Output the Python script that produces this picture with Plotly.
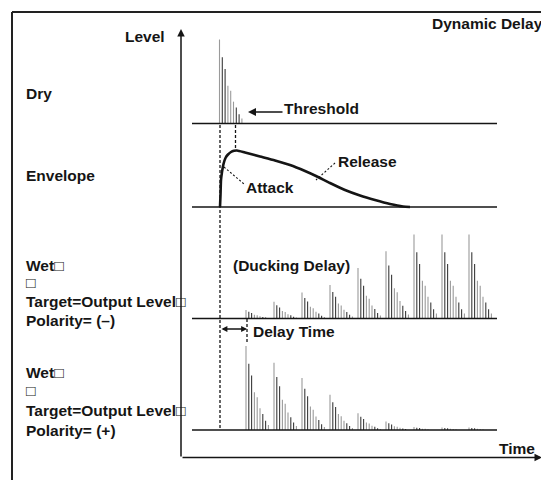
import plotly.graph_objects as go

# ---- data (levels) ----
pulse_shape = [1.0, 0.79, 0.65, 0.45, 0.39, 0.26, 0.19, 0.11, 0.06]
pulse_tone = ["g", "d", "d", "g", "g", "g", "d", "d", "g"]
dry_peak = 84
dry_onset = 219.5
burst_start = [246, 274, 302, 330, 358, 386, 414, 442, 469]
duck_scale = [0.10, 0.20, 0.31, 0.40, 0.60, 0.80, 1.00, 1.00, 1.00]
plus_scale = [1.00, 0.80, 0.62, 0.42, 0.20, 0.10, 0.035, 0.03, 0.03]
env_t = [220, 220.5, 221, 222, 223.5, 225.5, 228, 231, 234, 237, 245, 260, 275,
         290, 305, 316, 330, 345, 360, 375, 390, 403, 410]
env_level = [0, 12, 27, 35, 43, 49, 52.5, 55, 56.2, 56.5, 54.5, 50.5, 46.5,
             42, 36, 31, 24, 17, 11.5, 7, 3, 0.5, 0]

# row baselines (screen layout)
BASE_DRY, BASE_ENV, BASE_WM, BASE_WP = 123.5, 207, 318.5, 430
X0, X1 = 192, 497
SP = 2.8
INK = "#151515"
GRAY = "#9a9a9a"
DARK = "#3a3a3a"
FONT = dict(family="Liberation Sans, Arial, sans-serif", size=15.5, color=INK, weight="bold")
OFF = 8  # page body margin
BOX = '<span style="font-weight:normal">□</span>'

fig = go.Figure()

# pulses
gx, gy, dx, dy = [], [], [], []
def add_burst(start, scale, base):
    for k, (s, tone) in enumerate(zip(pulse_shape, pulse_tone)):
        h = dry_peak * scale * s
        if h < 0.6:
            continue
        x = start + SP * k
        xs, ys = (gx, gy) if tone == "g" else (dx, dy)
        xs += [x, x, None]
        ys += [base, base - h, None]

add_burst(dry_onset, 1.0, BASE_DRY)
for st, sc in zip(burst_start, duck_scale):
    add_burst(st, sc, BASE_WM)
for st, sc in zip(burst_start, plus_scale):
    add_burst(st, sc, BASE_WP)

fig.add_trace(go.Scatter(x=gx, y=gy, mode="lines", line=dict(color=GRAY, width=1.1),
                         hoverinfo="skip"))
fig.add_trace(go.Scatter(x=dx, y=dy, mode="lines", line=dict(color=DARK, width=1.1),
                         hoverinfo="skip"))

# envelope
fig.add_trace(go.Scatter(x=env_t, y=[BASE_ENV - v for v in env_level], mode="lines",
                         line=dict(color=INK, width=2.6, shape="spline", smoothing=0.6),
                         hoverinfo="skip"))

shapes = []
# outer frame
shapes.append(dict(type="line", x0=12, x1=12, y0=12, y1=482, line=dict(color="#222", width=2)))
shapes.append(dict(type="line", x0=12, x1=551, y0=12, y1=12, line=dict(color="#222", width=2)))
# baselines
for b in (BASE_DRY, BASE_ENV, BASE_WM, BASE_WP):
    shapes.append(dict(type="line", x0=X0, x1=X1, y0=b, y1=b, line=dict(color=INK, width=1.6)))
# dashed guides
dash = "3px,2px"
shapes.append(dict(type="line", x0=220, x1=220, y0=125, y1=BASE_WP, line=dict(color=INK, width=1.3, dash=dash)))
shapes.append(dict(type="line", x0=235.5, x1=235.5, y0=125, y1=150, line=dict(color=INK, width=1.3, dash=dash)))
shapes.append(dict(type="line", x0=247, x1=247, y0=319, y1=342, line=dict(color=INK, width=1.3, dash=dash)))
shapes.append(dict(type="line", x0=224, x1=244, y0=167, y1=184, line=dict(color=INK, width=1.1, dash="2px,2px")))
shapes.append(dict(type="line", x0=335, x1=316, y0=163, y1=180, line=dict(color=INK, width=1.1, dash="2px,2px")))

annotations = []
def arrow(x, y, ax, ay, side="end", w=1.5, head=2, size=1.0):
    annotations.append(dict(x=x, y=y, ax=ax, ay=ay, xref="x", yref="y", axref="x", ayref="y",
                            text="", showarrow=True, arrowhead=head, arrowsize=size,
                            arrowwidth=w, arrowcolor=INK, arrowside=side,
                            standoff=0, startstandoff=0))

arrow(181, 29, 181, 458)          # level axis
arrow(542, 457.5, 181, 457.5)     # time axis
arrow(248, 112, 284, 112, w=1.6)  # threshold
arrow(247, 329, 220, 329, side="end+start", w=1.3, size=0.9)  # delay time

def label(txt, x, y, anchor="left"):
    annotations.append(dict(x=x, y=y, xref="x", yref="y", text=txt, showarrow=False,
                            xanchor=anchor, yanchor="middle", font=FONT))

label("Level", 167, 36, "right")
label("Dynamic Delay", 545, 23, "right")
label("Dry", 24, 93)
label("Envelope", 24, 175)
label("Threshold", 282, 108)
label("Attack", 244, 187)
label("Release", 336, 161)
label("(Ducking Delay)", 231, 265)
label("Delay Time", 251, 331)
label("Time", 497, 448)
for txt, y in (("Wet" + BOX, 265), (BOX, 282.5), ("Target=Output Level" + BOX, 301), ("Polarity= (–)", 320)):
    label(txt, 24, y)
for txt, y in (("Wet" + BOX, 372), (BOX, 390), ("Target=Output Level" + BOX, 410), ("Polarity= (+)", 430)):
    label(txt, 24, y)

fig.update_layout(
    width=549 - OFF, height=480 - OFF, margin=dict(l=0, r=0, t=0, b=0),
    paper_bgcolor="white", plot_bgcolor="white", showlegend=False,
    xaxis=dict(range=[OFF, 549], visible=False, fixedrange=True),
    yaxis=dict(range=[480, OFF], visible=False, fixedrange=True),
    shapes=shapes, annotations=annotations,
)

fig.write_html("out.html")
